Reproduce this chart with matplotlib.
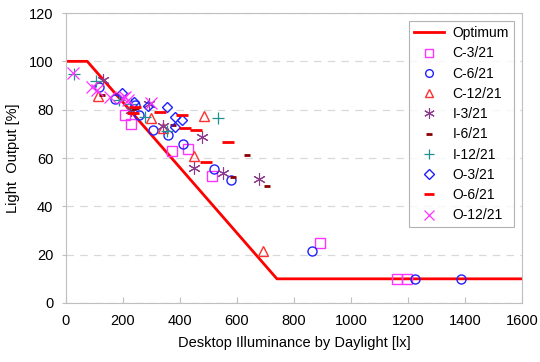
import numpy as np
import matplotlib
matplotlib.use("Agg")
from matplotlib import pyplot as plt

plt.rcParams['font.family'] = ['Liberation Sans', 'DejaVu Sans']

# linea optima
opt_x = [0, 75, 740, 1600]
opt_y = [100, 100, 10, 10]

# datos medidos (iluminancia lx, salida %)
c3_x = [207, 230, 371, 428, 514, 891, 1160, 1195]
c3_y = [78, 74, 63, 63.6, 52.5, 25, 10, 10]
c6_x = [117, 172, 242, 256, 304, 359, 411, 520, 578, 862, 1224, 1385]
c6_y = [89.5, 84.4, 82, 77.8, 71.6, 69.5, 66, 55.4, 51, 21.6, 10, 10]
c12_x = [111, 298, 339, 450, 485, 692]
c12_y = [85.7, 76.7, 72.6, 60.8, 77.4, 21.6]
i3_x = [131, 230, 292, 339, 450, 479, 550, 677]
i3_y = [92.3, 80, 82.3, 73.2, 56, 68.6, 53.7, 51.2]
i6_x = [125, 236, 246, 376, 587, 634, 706]
i6_y = [86, 80.1, 80.6, 73.7, 52.3, 61.2, 48.4]
i12_x = [28, 105, 187, 228, 277, 353, 534]
i12_y = [94.8, 91.9, 84, 82.4, 77.1, 71.3, 76.4]
o3_x = [198, 240, 289, 353, 382, 382, 406]
o3_y = [87, 83, 81.5, 81, 77, 73, 75.7]
o6_x = [236, 242, 330, 406, 417, 458, 493, 569]
o6_y = [78.7, 81.2, 79.2, 77.8, 72.3, 71.6, 58.5, 66.8]
o12_x = [26, 90, 108, 154, 200, 207, 218, 300]
o12_y = [95, 89.5, 88, 85.4, 85, 85.4, 84, 82.6]

fig = plt.figure(figsize=(5.4, 3.62), dpi=100)
ax = fig.add_axes([0.122, 0.163, 0.845, 0.801])

ax.plot(opt_x, opt_y, color="#ff0000", lw=2, label="Optimum", zorder=2)
ax.plot(c3_x, c3_y, "s", ms=6.5, mfc="none", mec="#ff33ff", mew=1, label="C-3/21")
ax.plot(c6_x, c6_y, "o", ms=6.5, mfc="none", mec="#2020ff", mew=1, label="C-6/21")
ax.plot(c12_x, c12_y, "^", ms=7.5, mfc="none", mec="#ff3030", mew=1, label="C-12/21")
ax.plot(i3_x, i3_y, marker=(6, 2, 0), ls="none", ms=9, mec="#8c3c8c", mew=0.8, label="I-3/21")
ax.plot(i6_x, i6_y, "_", ms=5, mec="#8b0000", mew=2, label="I-6/21")
ax.plot(i12_x, i12_y, "+", ms=9, mec="#209090", mew=0.9, label="I-12/21")
ax.plot(o3_x, o3_y, "D", ms=5.5, mfc="none", mec="#2020ff", mew=1, label="O-3/21")
ax.plot(o6_x, o6_y, "_", ms=9, mec="#ff0000", mew=2, label="O-6/21")
ax.plot(o12_x, o12_y, "x", ms=8, mec="#ff33ff", mew=0.9, label="O-12/21")

ax.set_xlim(0, 1600)
ax.set_ylim(0, 120)
ax.set_xticks(np.arange(0, 1601, 200))
ax.set_yticks(np.arange(0, 121, 20))
ax.yaxis.grid(True, ls=(0, (6, 5)), color="#d9d9d9", lw=0.9)
ax.set_axisbelow(True)
for s in ax.spines.values():
    s.set_color("#bfbfbf")
ax.tick_params(axis="x", direction="in", length=4, color="#bfbfbf", labelsize=10.5, pad=8)
ax.tick_params(axis="y", direction="out", length=3, color="#bfbfbf", labelsize=10.5, pad=6)

ax.set_xlabel("Desktop Illuminance by Daylight [lx]", fontsize=10.5, labelpad=6)
ax.set_ylabel("Light  Output [%]", fontsize=10.5, labelpad=6)

leg = ax.legend(loc="upper right", fontsize=10, frameon=True, fancybox=False,
                edgecolor="#a0a0a0", borderaxespad=0.6, handlelength=2.2,
                labelspacing=0.45, borderpad=0.35, handletextpad=0.6,
                markerscale=0.85)
leg.get_frame().set_linewidth(0.8)

fig.savefig("out.png", dpi=100)
